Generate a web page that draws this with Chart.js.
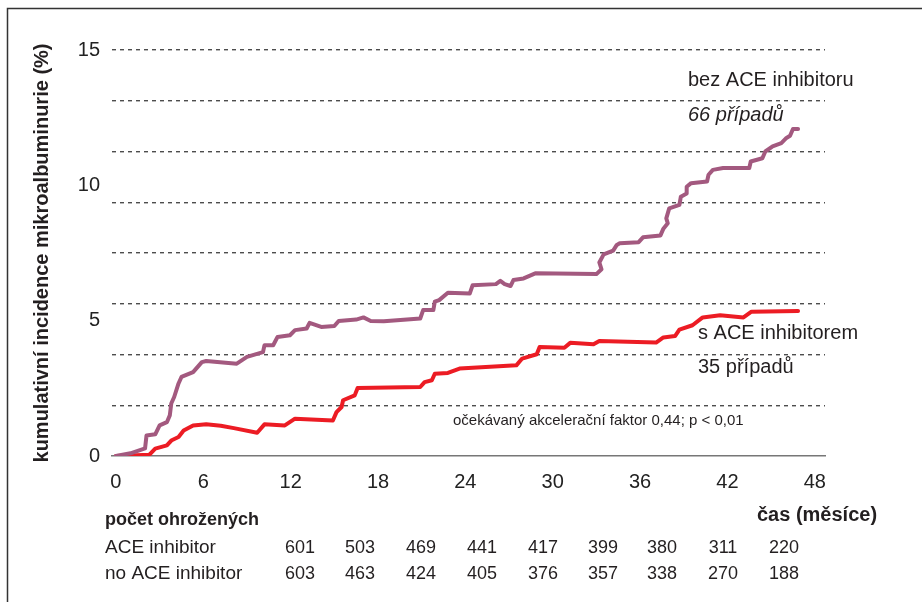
<!DOCTYPE html>
<html>
<head>
<meta charset="utf-8">
<script src="https://cdn.jsdelivr.net/npm/chart.js@4"></script>
<style>
  html, body { margin: 0; padding: 0; background: #fff; }
  #wrap { width: 922px; height: 602px; }
</style>
</head>
<body>
<div id="wrap"><canvas id="chart" width="922" height="602"></canvas></div>
<script>
// Tick values
const xTicks = [0, 6, 12, 18, 24, 30, 36, 42, 48];
const yLabelTicks = [0, 5, 10, 15];
const yGridTicks = [0, 1.875, 3.75, 5.625, 7.5, 9.375, 11.25, 13.125, 15];

// bez ACE inhibitoru (purple)
const noAceMonths = [0, 1, 2.0, 2.1, 2.7, 3.0, 3.5, 3.7, 3.8, 4.0, 4.3, 4.5, 5.3, 5.9, 6.2, 8.3, 9.0, 10.1, 10.2, 10.8,
  11.1, 11.95, 12.3, 13.1, 13.3, 14.1, 15.0, 15.3, 16.5, 17.0, 17.5, 18.4, 20.9, 21.1, 21.8, 21.9, 22.2, 22.8, 24.3, 24.5,
  26.1, 26.4, 26.7, 27.1, 27.3, 28.0, 28.8, 33.0, 33.35, 33.2, 33.5, 34.15, 34.4, 34.6, 35.9, 36.2, 37.4, 37.6, 37.9, 37.8,
  38.0, 38.7, 38.8, 39.2, 39.2, 39.5, 40.6, 40.7, 41.0, 41.7, 43.5, 43.6, 44.4, 44.6, 45.1, 45.7, 46.05, 46.3, 46.5, 46.85];
const noAceValues = [0, 0.1, 0.28, 0.76, 0.8, 1.13, 1.25, 1.5, 1.94, 2.18, 2.68, 2.92, 3.1, 3.47, 3.51, 3.41, 3.66, 3.84, 4.09, 4.09,
  4.4, 4.46, 4.65, 4.71, 4.92, 4.77, 4.8, 4.99, 5.04, 5.12, 4.99, 4.98, 5.08, 5.39, 5.39, 5.7, 5.76, 6.03, 6.0, 6.31,
  6.35, 6.47, 6.35, 6.28, 6.5, 6.56, 6.75, 6.72, 6.9, 7.15, 7.45, 7.59, 7.8, 7.86, 7.9, 8.08, 8.15, 8.4, 8.6, 8.78,
  9.15, 9.28, 9.58, 9.7, 9.95, 10.08, 10.14, 10.39, 10.57, 10.64, 10.64, 10.88, 11.0, 11.25, 11.44, 11.56, 11.75, 11.83, 12.08, 12.08];

// s ACE inhibitorem (red)
const aceMonths = [0, 2.3, 2.7, 3.5, 3.8, 4.3, 4.65, 5.3, 6.2, 7.2, 8.1, 9.7, 10.2, 11.6, 12.3, 14.9, 15.15, 15.5, 15.6, 16.4,
  16.6, 20.9, 21.2, 21.7, 21.9, 22.8, 23.6, 27.5, 27.9, 28.9, 29.1, 30.8, 31.2, 32.8, 33.2, 37.1, 37.6, 38.4, 38.7, 39.6,
  40.3, 41.5, 43.1, 43.65, 46.85];
const aceValues = [0, 0.05, 0.27, 0.39, 0.57, 0.7, 0.94, 1.13, 1.17, 1.12, 1.03, 0.86, 1.17, 1.13, 1.38, 1.31, 1.62, 1.81, 2.06, 2.24,
  2.51, 2.55, 2.73, 2.8, 3.04, 3.07, 3.23, 3.35, 3.6, 3.76, 4.03, 4.0, 4.18, 4.13, 4.25, 4.19, 4.38, 4.43, 4.67, 4.83,
  5.12, 5.2, 5.12, 5.33, 5.36];

// Number at risk table
const riskRows = ['ACE inhibitor', 'no ACE inhibitor'];
const riskAce = [601, 503, 469, 441, 417, 399, 380, 311, 220];
const riskNoAce = [603, 463, 424, 405, 376, 357, 338, 270, 188];

const FONT = '"Liberation Sans", Arial, Helvetica, sans-serif';
const TEXT = '#231f20';

function toPoints(xs, ys) {
  return xs.map((x, i) => ({ x: x, y: ys[i] }));
}

// Frame, annotations and the risk table
const decorPlugin = {
  id: 'decor',
  beforeDraw(chart) {
    const ctx = chart.ctx;
    ctx.save();
    ctx.fillStyle = '#fff';
    ctx.fillRect(0, 0, chart.width, chart.height);
    ctx.strokeStyle = '#333';
    ctx.lineWidth = 1.5;
    ctx.beginPath();
    ctx.moveTo(7.5, chart.height);
    ctx.lineTo(7.5, 8.5);
    ctx.lineTo(chart.width, 8.5);
    ctx.stroke();
    ctx.restore();
  },
  afterDraw(chart) {
    const ctx = chart.ctx;
    ctx.save();
    ctx.fillStyle = TEXT;
    ctx.textBaseline = 'middle';
    ctx.textAlign = 'left';

    ctx.font = '20px ' + FONT;
    ctx.fillText('bez ACE inhibitoru', 688, 80);
    ctx.font = 'italic 20px ' + FONT;
    ctx.fillText('66 případů', 688, 115);
    ctx.font = '20px ' + FONT;
    ctx.fillText('s ACE inhibitorem', 698, 333);
    ctx.fillText('35 případů', 698, 367);
    ctx.font = '15px ' + FONT;
    ctx.fillText('očekávaný akcelerační faktor 0,44; p < 0,01', 453, 421);

    ctx.font = 'bold 20px ' + FONT;
    ctx.fillText('čas (měsíce)', 757, 515);

    ctx.font = 'bold 18px ' + FONT;
    ctx.fillText('počet ohrožených', 105, 520);
    ctx.font = '19px ' + FONT;
    ctx.fillText(riskRows[0], 105, 548);
    ctx.fillText(riskRows[1], 105, 574);

    const colX = [300, 360, 421, 482, 543, 603, 662, 723, 784];
    ctx.font = '18px ' + FONT;
    ctx.textAlign = 'center';
    riskAce.forEach((v, i) => ctx.fillText(String(v), colX[i], 548));
    riskNoAce.forEach((v, i) => ctx.fillText(String(v), colX[i], 574));
    ctx.restore();
  }
};

new Chart(document.getElementById('chart'), {
  type: 'line',
  data: {
    datasets: [
      {
        label: 'bez ACE inhibitoru',
        data: toPoints(noAceMonths, noAceValues),
        borderColor: '#a3597f',
        borderWidth: 4,
        pointRadius: 0,
        tension: 0,
        borderJoinStyle: 'round',
        borderCapStyle: 'round',
        fill: false
      },
      {
        label: 's ACE inhibitorem',
        data: toPoints(aceMonths, aceValues),
        borderColor: '#ec1c24',
        borderWidth: 4,
        pointRadius: 0,
        tension: 0,
        borderJoinStyle: 'round',
        borderCapStyle: 'round',
        fill: false
      }
    ]
  },
  options: {
    responsive: false,
    animation: false,
    layout: { padding: { left: 0, top: 50, right: 97, bottom: 0 } },
    plugins: {
      legend: { display: false },
      tooltip: { enabled: false }
    },
    scales: {
      x: {
        type: 'linear',
        min: -0.27,
        max: 48.7,
        afterBuildTicks: (scale) => { scale.ticks = xTicks.map(v => ({ value: v })); },
        afterFit: (scale) => { scale.height = 146; },
        grid: { display: false, drawTicks: false },
        border: { display: true, color: '#777', width: 1.5 },
        ticks: { color: '#222', padding: 14, maxRotation: 0, font: { family: FONT, size: 20 } }
      },
      y: {
        position: 'right',
        min: 0,
        max: 15,
        afterBuildTicks: (scale) => { scale.ticks = yGridTicks.map(v => ({ value: v })); },
        afterFit: (scale) => { scale.width = 0; },
        grid: {
          drawTicks: false,
          lineWidth: 1.4,
          color: (ctx) => ctx.tick && ctx.tick.value === 0 ? 'rgba(0,0,0,0)' : '#4d4d4d'
        },
        border: { display: false, dash: [4, 4] },
        ticks: { display: false }
      },
      yl: {
        position: 'left',
        min: 0,
        max: 15,
        afterBuildTicks: (scale) => { scale.ticks = yLabelTicks.map(v => ({ value: v })); },
        afterFit: (scale) => { scale.width = 112; },
        grid: { display: false, drawTicks: false },
        border: { display: false },
        ticks: { color: '#222', padding: 12, font: { family: FONT, size: 20 } },
        title: {
          display: true,
          text: 'kumulativní incidence mikroalbuminurie (%)',
          color: TEXT,
          padding: { top: 30, bottom: 0 },
          font: { family: FONT, size: 20, weight: 'bold' }
        }
      }
    }
  },
  plugins: [decorPlugin]
});
</script>
</body>
</html>
